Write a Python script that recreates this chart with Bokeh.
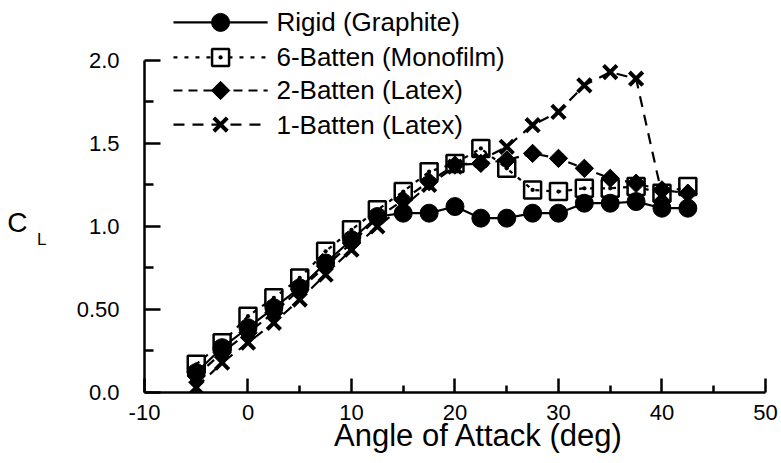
import math
from bokeh.plotting import figure
from bokeh.models import FixedTicker, Range1d, LinearAxis
from bokeh.core.properties import value
from bokeh.embed import file_html
from bokeh.resources import INLINE

# ---- data ----
alpha = [-5, -2.5, 0, 2.5, 5, 7.5, 10, 12.5, 15, 17.5, 20, 22.5, 25, 27.5, 30, 32.5, 35, 37.5, 40, 42.5]
cl_rigid = [0.12, 0.27, 0.39, 0.51, 0.63, 0.78, 0.92, 1.06, 1.08, 1.08, 1.12, 1.05, 1.05, 1.08, 1.08, 1.14, 1.14, 1.15, 1.11, 1.11]
cl_6batten = [0.17, 0.30, 0.46, 0.57, 0.69, 0.85, 0.98, 1.10, 1.21, 1.33, 1.38, 1.47, 1.35, 1.22, 1.21, 1.23, 1.23, 1.24, 1.20, 1.24]
cl_2batten = [0.10, 0.24, 0.36, 0.48, 0.62, 0.76, 0.90, 1.05, 1.16, 1.27, 1.37, 1.38, 1.40, 1.44, 1.41, 1.35, 1.29, 1.26, 1.22, 1.20]
alpha_1b = [-5, -2.5, 0, 2.5, 5, 7.5, 10, 12.5, 15, 17.5, 20, 22.5, 25, 27.5, 30, 32.5, 35, 37.5, 40]
cl_1batten = [0.03, 0.18, 0.30, 0.42, 0.56, 0.71, 0.86, 1.00, 1.12, 1.25, 1.36, 1.40, 1.48, 1.61, 1.69, 1.85, 1.93, 1.89, 1.19]

x_ticks = [-10, 0, 10, 20, 30, 40, 50]
x_tick_labels = ["-10", "0", "10", "20", "30", "40", "50"]
x_minor = [-5, 5, 15, 25, 35, 45]
y_ticks = [0.0, 0.5, 1.0, 1.5, 2.0]
y_tick_labels = ["0.0", "0.50", "1.0", "1.5", "2.0"]
y_minor = [0.25, 0.75, 1.25, 1.75]

labels = ["Rigid (Graphite)", "6-Batten (Monofilm)", "2-Batten (Latex)", "1-Batten (Latex)"]
x_title = "Angle of Attack (deg)"
y_title_main, y_title_sub = "C", "L"

FONT = "Liberation Sans"

p = figure(width=781, height=463, output_backend="svg", toolbar_location=None,
           x_range=Range1d(-10, 51.55), y_range=Range1d(0, 2.361),
           min_border_left=144, min_border_right=0, min_border_top=0, min_border_bottom=71)
p.outline_line_color = None
p.xgrid.visible = False
p.ygrid.visible = False
p.background_fill_color = "white"
p.border_fill_color = "white"

# main axes
p.xaxis.ticker = FixedTicker(ticks=x_ticks, minor_ticks=x_minor)
p.yaxis.ticker = FixedTicker(ticks=y_ticks, minor_ticks=y_minor)
p.xaxis.major_label_overrides = {t: l for t, l in zip(x_ticks, x_tick_labels)}
p.yaxis.major_label_overrides = {t: l for t, l in zip(y_ticks, y_tick_labels)}
p.xaxis.bounds = (-10, 50)
p.yaxis.bounds = (0, 2.0)
for ax in (p.xaxis[0], p.yaxis[0]):
    ax.axis_line_width = 2.5
    ax.axis_line_color = "black"
    ax.major_tick_line_width = 2.5
    ax.minor_tick_line_width = 2.5
    ax.major_tick_line_color = "black"
    ax.minor_tick_line_color = "black"
    ax.major_tick_out = 0
    ax.minor_tick_out = 0
    ax.major_label_text_font = FONT
    ax.major_label_text_font_size = "22px"
    ax.major_label_text_color = "black"
p.xaxis.major_tick_in = 14
p.xaxis.minor_tick_in = 7
p.yaxis.major_tick_in = 16
p.yaxis.minor_tick_in = 9
p.xaxis.major_label_standoff = 12
p.yaxis.major_label_standoff = 25


def label_axis(tick, text, size, standoff):
    ax = LinearAxis(ticker=FixedTicker(ticks=[tick], minor_ticks=[]),
                    major_label_overrides={tick: text})
    ax.axis_line_alpha = 0
    ax.major_tick_in = 0
    ax.major_tick_out = 0
    ax.minor_tick_in = 0
    ax.minor_tick_out = 0
    ax.major_label_text_font = FONT
    ax.major_label_text_font_size = size
    ax.major_label_text_color = "black"
    ax.major_label_standoff = standoff
    return ax


# x-axis title (as an extra label-only axis so it can be centred like the original)
p.add_layout(label_axis(22.3, x_title, "31px", -5), "below")
# C_L y-axis title
p.add_layout(label_axis(0.92, y_title_sub, "17px", 27), "left")
p.add_layout(label_axis(1.024, y_title_main, "28px", 7), "left")

# series
styles = [
    dict(dash="solid", marker="circle", size=18, fill="black", angle=0),
    dict(dash="4 7", marker="square_dot", size=17, fill=None, angle=0),
    dict(dash="9 6", marker="square", size=13, fill="black", angle=math.pi / 4),
    dict(dash="11 8", marker="x", size=19, fill=None, angle=0),
]
series = [(alpha, cl_rigid), (alpha, cl_6batten), (alpha, cl_2batten), (alpha_1b, cl_1batten)]


def draw_markers(xs, ys, st, legend=False):
    if st["fill"] is None:
        p.scatter(xs, ys, marker=st["marker"], size=st["size"], line_color="black",
                  line_width=2.5 if st["marker"] == "square_dot" else 4,
                  fill_color="white", fill_alpha=1 if legend else 0)
    else:
        p.scatter(xs, ys, marker=st["marker"], size=st["size"], angle=st["angle"],
                  line_color="black", fill_color="black", line_width=1)


order = [3, 2, 1, 0]
for i in order:
    xs, ys = series[i]
    p.line(xs, ys, line_color="black", line_width=2.2, line_dash=styles[i]["dash"])
for i in order:
    xs, ys = series[i]
    draw_markers(xs, ys, styles[i])

# custom legend (drawn above the y-axis top, as in the original)
leg_x0, leg_x1, leg_xm, leg_xt = -7.2, 1.9, -2.65, 2.75
leg_y = [2.229, 2.018, 1.819, 1.614]
for i, lab in enumerate(labels):
    st = styles[i]
    p.line([leg_x0, leg_x1], [leg_y[i], leg_y[i]], line_color="black", line_width=2.2,
           line_dash=st["dash"])
    draw_markers([leg_xm], [leg_y[i]], st, legend=True)
    p.text([leg_xt], [leg_y[i]], text=[lab], text_font=value(FONT), text_font_size="26px",
           text_baseline="middle", text_align="left", text_color="black")

open("out.html", "w").write(file_html(p, INLINE))
